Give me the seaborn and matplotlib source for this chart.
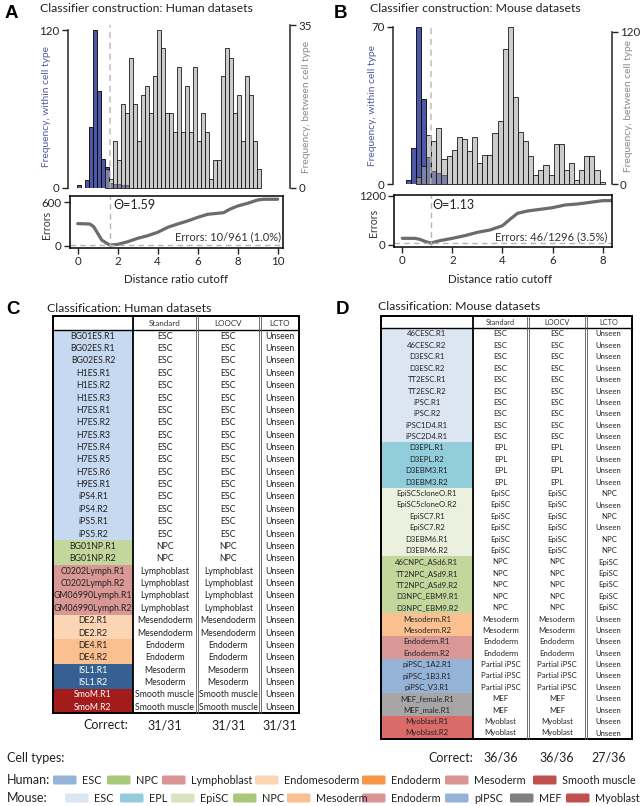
import numpy as np
import pandas as pd
import matplotlib
matplotlib.use("Agg")
import matplotlib.pyplot as plt
import seaborn as sns
from matplotlib.patches import Rectangle, FancyBboxPatch

sns.set_style("white")
plt.rcParams["font.family"] = ["Lato", "DejaVu Sans"]
plt.rcParams["axes.linewidth"] = 1.1

# ---------------- data ----------------
bin_w_h = 0.2
within_h_start = -0.02
within_h = [2, 0, 6, 46, 120, 74, 22, 16, 4, 3, 3, 2, 2]
between_h_start = 1.38
between_h = [4, 2, 10, 6, 18, 16, 28, 18, 10, 20, 22, 16, 24, 34, 30, 16, 16, 12, 26, 12,
             22, 12, 26, 10, 16, 12, 2, 6, 6, 24, 30, 28, 16, 20, 10, 24, 20, 10, 4]

bin_w_m = 0.2035
within_m_start = 0.14
within_m = [2, 16, 70, 38, 12, 6, 5, 4]
between_m_start = 0.547
between_m = [6, 14, 39, 34, 44, 20, 22, 27, 37, 36, 26, 37, 17, 23, 23, 40, 50, 106, 124, 69,
             41, 34, 22, 7, 11, 15, 7, 32, 32, 11, 17, 3, 11, 22, 22, 11, 2]

err_h_x = [0, 0.6, 0.8, 1.0, 1.2, 1.4, 1.6, 2.0, 2.5, 3.0, 3.5, 4.0, 4.5, 5.0, 5.5, 6.0, 6.5,
           7.0, 7.3, 7.6, 8.0, 8.5, 9.0, 9.3, 10.0]
err_h_y = [305, 300, 263, 171, 78, 42, 10, 18, 55, 102, 138, 185, 254, 300, 342, 392, 434,
           448, 457, 503, 549, 586, 632, 642, 642]
theta_h = 1.59
min_err_h = 10

err_m_x = [0, 0.5, 0.7, 0.9, 1.13, 1.5, 2.0, 2.5, 3.0, 3.5, 4.0, 4.3, 4.6, 5.0, 5.5, 6.0, 6.5,
           7.0, 7.5, 8.0, 8.36]
err_m_y = [163, 163, 139, 90, 46, 106, 163, 229, 310, 367, 473, 629, 776, 833, 873, 914, 980,
           1004, 1045, 1086, 1086]
theta_m = 1.13
min_err_m = 46

human_names = ["BG01ES.R1", "BG02ES.R1", "BG02ES.R2", "H1ES.R1", "H1ES.R2", "H1ES.R3",
               "H7ES.R1", "H7ES.R2", "H7ES.R3", "H7ES.R4", "H7ES.R5", "H7ES.R6", "H9ES.R1",
               "iPS4.R1", "iPS4.R2", "iPS5.R1", "iPS5.R2", "BG01NP.R1", "BG01NP.R2",
               "C0202Lymph.R1", "C0202Lymph.R2", "GM06990Lymph.R1", "GM06990Lymph.R2",
               "DE2.R1", "DE2.R2", "DE4.R1", "DE4.R2", "ISL1.R1", "ISL1.R2", "SmoM.R1", "SmoM.R2"]
human_group = ["ESC"] * 17 + ["NPC"] * 2 + ["Lymph"] * 4 + ["DE2"] * 2 + ["DE4"] * 2 + \
              ["ISL1"] * 2 + ["SmoM"] * 2
human_std = ["ESC"] * 17 + ["NPC"] * 2 + ["Lymphoblast"] * 4 + ["Mesendoderm"] * 2 + \
            ["Endoderm"] * 2 + ["Mesoderm"] * 2 + ["Smooth muscle"] * 2
human_loocv = list(human_std)
human_lcto = ["Unseen"] * 31
human_correct = ["31/31", "31/31", "31/31"]

mouse_names = ["46CESC.R1", "46CESC.R2", "D3ESC.R1", "D3ESC.R2", "TT2ESC.R1", "TT2ESC.R2",
               "iPSC.R1", "iPSC.R2", "iPSC1D4.R1", "iPSC2D4.R1",
               "D3EPL.R1", "D3EPL.R2", "D3EBM3.R1", "D3EBM3.R2",
               "EpiSC5cloneO.R1", "EpiSC5cloneO.R2", "EpiSC7.R1", "EpiSC7.R2", "D3EBM6.R1", "D3EBM6.R2",
               "46CNPC_ASd6.R1", "TT2NPC_ASd9.R1", "TT2NPC_ASd9.R2", "D3NPC_EBM9.R1", "D3NPC_EBM9.R2",
               "Mesoderm.R1", "Mesoderm.R2", "Endoderm.R1", "Endoderm.R2",
               "piPSC_1A2.R1", "piPSC_1B3.R1", "piPSC_V3.R1", "MEF_female.R1", "MEF_male.R1",
               "Myoblast.R1", "Myoblast.R2"]
mouse_group = ["ESC"] * 10 + ["EPL"] * 4 + ["EpiSC"] * 6 + ["NPC"] * 5 + ["Meso"] * 2 + \
              ["Endo"] * 2 + ["piPSC"] * 3 + ["MEF"] * 2 + ["Myo"] * 2
mouse_std = ["ESC"] * 10 + ["EPL"] * 4 + ["EpiSC"] * 6 + ["NPC"] * 5 + ["Mesoderm"] * 2 + \
            ["Endoderm"] * 2 + ["Partial iPSC"] * 3 + ["MEF"] * 2 + ["Myoblast"] * 2
mouse_loocv = list(mouse_std)
mouse_lcto = ["Unseen"] * 14 + ["NPC", "Unseen", "NPC", "Unseen", "NPC", "NPC"] + \
             ["EpiSC"] * 5 + ["Unseen"] * 11
mouse_correct = ["36/36", "36/36", "27/36"]

table_cols = ["Standard", "LOOCV", "LCTO"]

human_fill = {"ESC": "#c6d9f1", "NPC": "#c3d69b", "Lymph": "#d99795", "DE2": "#fcd5b5",
              "DE4": "#fac090", "ISL1": "#376092", "SmoM": "#a31c1c"}
mouse_fill = {"ESC": "#dce6f2", "EPL": "#92cddc", "EpiSC": "#ebf1de", "NPC": "#c3d69b",
              "Meso": "#fac090", "Endo": "#d99795", "piPSC": "#95b3d7", "MEF": "#a6a6a6",
              "Myo": "#db6b68"}

legend_h_labels = ["ESC", "NPC", "Lymphoblast", "Endomesoderm", "Endoderm", "Mesoderm", "Smooth muscle"]
legend_h_colors = ["#95b3d7", "#a9c97a", "#d99594", "#fcd5b4", "#f79646", "#d99594", "#c0504d"]
legend_m_labels = ["ESC", "EPL", "EpiSC", "NPC", "Mesoderm", "Endoderm", "pIPSC", "MEF", "Myoblast"]
legend_m_colors = ["#dce6f2", "#93cddd", "#d7e4bd", "#a9c97a", "#fac090", "#d99594", "#95b3d7",
                   "#7f7f7f", "#c0504d"]

# ---------------- layout helpers ----------------
W, H = 644, 806
fig = plt.figure(figsize=(W / 100, H / 100), dpi=100)


def px_axes(l, t, r, b):
    return fig.add_axes([l / W, 1 - b / H, (r - l) / W, (b - t) / H])


BLUE = "#4f58a6"
BLUE_TXT = "#5558a8"
GRAY_TXT = "#8a8a8a"
LINE = "#6b6b6b"


def hist_panel(box, xlim, within_start, within, between_start, between, bw,
               lmax, lylim, rmax, rylim, theta, llab_x, rlab_x):
    ax = px_axes(*box)
    wc = [within_start + bw * (i + 0.5) for i in range(len(within))]
    we = [within_start + bw * i for i in range(len(within) + 1)]
    sns.histplot(x=wc, weights=within, bins=we, ax=ax, color=BLUE, alpha=1,
                 edgecolor="black", linewidth=0.6)
    ax2 = ax.twinx()
    bc = [between_start + bw * (i + 0.5) for i in range(len(between))]
    be = [between_start + bw * i for i in range(len(between) + 1)]
    sns.histplot(x=bc, weights=between, bins=be, ax=ax2, color="#a6a6a6", alpha=1,
                 edgecolor="black", linewidth=0.6)
    for p in ax2.patches:
        p.set_alpha(None)
        p.set_facecolor((0.64, 0.64, 0.64, 0.55))
        p.set_edgecolor((0.1, 0.1, 0.1, 1))
        p.set_clip_on(False)
    ax.set_xlim(*xlim)
    ax.set_ylim(0, lylim)
    ax2.set_ylim(0, rylim)
    ax2.axvline(theta, color="#bdbdbd", ls=(0, (4, 3)), lw=1.1, zorder=5)
    for a in (ax, ax2):
        a.spines["top"].set_visible(False)
        a.spines["bottom"].set_visible(False)
        a.set_xticks([])
        a.set_xlabel("")
    ax.spines["right"].set_visible(False)
    ax2.spines["left"].set_visible(False)
    ax.spines["left"].set_bounds(0, lmax)
    ax2.spines["right"].set_bounds(0, rmax)
    ax.set_yticks([0, lmax])
    ax2.set_yticks([0, rmax])
    ax.tick_params(axis="y", direction="out", length=4, width=1.0, pad=2, labelsize=8.3,
                   left=True)
    ax2.tick_params(axis="y", direction="out", length=4, width=1.0, pad=2, labelsize=8.3,
                    right=True)
    ax.set_ylabel("Frequency, within cell type", color=BLUE_TXT, fontsize=7.4)
    ax2.set_ylabel("Frequency, between cell type", color=GRAY_TXT, fontsize=7.4)
    ax.yaxis.set_label_coords(llab_x, 0.5)
    ax2.yaxis.set_label_coords(rlab_x, 0.5)
    return ax, ax2


def err_panel(box, xlim, ylim, xs, ys, theta, minerr, ytop, xticks, theta_txt, err_txt,
              ylab_x, xlab_xy, th_pos, er_pos):
    ax = px_axes(*box)
    sns.lineplot(x=xs, y=ys, ax=ax, color=LINE, lw=2.3)
    ax.axvline(theta, color="#b5b5b5", ls=(0, (4, 3)), lw=1.0)
    ax.axhline(minerr, color="#b5b5b5", ls=(0, (4, 3)), lw=1.0)
    ax.set_xlim(*xlim)
    ax.set_ylim(*ylim)
    ax.set_yticks([0, ytop])
    ax.set_xticks(xticks)
    for s in ax.spines.values():
        s.set_visible(True)
        s.set_color("black")
        s.set_linewidth(1.1)
    ax.tick_params(direction="out", length=4, width=1.0, labelsize=8.3, pad=2,
                   left=True, bottom=True)
    ax.set_ylabel("Errors", fontsize=7.6, color="#333333")
    ax.yaxis.set_label_coords(ylab_x, 0.45)
    ax.set_xlabel("Distance ratio cutoff", fontsize=8.3, color="#222222")
    ax.xaxis.set_label_coords(*xlab_xy)
    ax.text(th_pos[0], th_pos[1], theta_txt, transform=ax.transAxes, fontsize=9,
            ha="left", va="center", color="#222222")
    ax.text(er_pos[0], er_pos[1], err_txt, transform=ax.transAxes, fontsize=8,
            ha="right", va="center", color="#333333")
    return ax


# Panel A
hist_panel((68, 25, 290, 188), (-0.485, 10.615), within_h_start, within_h, between_h_start,
           between_h, bin_w_h, 120, 123.8, 35, 35, theta_h, -0.075, 1.055)
err_panel((70, 196, 283, 248), (-0.385, 10.265), (-32, 687), err_h_x, err_h_y, theta_h,
          min_err_h, 600, [0, 2, 4, 6, 8, 10], "\u0398=1.59", "Errors: 10/961 (1.0%)",
          -0.085, (0.498, -0.5), (0.202, 0.83), (0.99, 0.21))

# Panel B
hist_panel((392.7, 26.7, 611.7, 184.3), (-0.383, 8.359), within_m_start, within_m,
           between_m_start, between_m, bin_w_m, 70, 70, 120, 123.9, theta_m, -0.072, 1.056)
err_panel((394, 195, 611.7, 246.7), (-0.331, 8.359), (-42, 1224), err_m_x, err_m_y, theta_m,
          min_err_m, 1200, [0, 2, 4, 6, 8], "\u0398=1.13", "Errors: 46/1296 (3.5%)",
          -0.068, (0.487, -0.53), (0.178, 0.81), (0.982, 0.19))

# ---------------- overlay for titles, tables and legend ----------------
ov = fig.add_axes([0, 0, 1, 1], zorder=-1)
ov.set_xlim(0, W)
ov.set_ylim(H, 0)
ov.axis("off")

for letter, x, y in [("A", 5, 14), ("B", 334, 14), ("C", 6, 310), ("D", 336, 310)]:
    ov.text(x, y, letter, fontsize=13.5, fontweight="bold", family=["Liberation Sans"],
            ha="left", va="center", color="black")
ov.text(40, 8, "Classifier construction: Human datasets", fontsize=8.8, ha="left",
        va="center", color="#222222")
ov.text(370, 8, "Classifier construction: Mouse datasets", fontsize=8.8, ha="left",
        va="center", color="#222222")
ov.text(47.5, 308, "Classification: Human datasets", fontsize=8.8, ha="left", va="center",
        color="#222222")
ov.text(378, 307, "Classification: Mouse datasets", fontsize=8.8, ha="left", va="center",
        color="#222222")


def draw_table(cols_x, top, hb, row_h, names, groups, fills, cols, fs, hfs, light_text):
    n = len(names)
    bottom = hb + n * row_h
    for i, (nm, g) in enumerate(zip(names, groups)):
        y0 = hb + i * row_h
        ov.add_patch(Rectangle((cols_x[0], y0), cols_x[1] - cols_x[0], row_h,
                               facecolor=fills[g], edgecolor="none"))
        tc = "white" if g in light_text else "#222222"
        ov.text((cols_x[0] + cols_x[1]) / 2, y0 + row_h / 2, nm, fontsize=fs, ha="center",
                va="center", color=tc)
        for j, col in enumerate(cols):
            ov.text((cols_x[j + 1] + cols_x[j + 2]) / 2, y0 + row_h / 2, col[i], fontsize=fs,
                    ha="center", va="center", color="#222222")
    for j, hname in enumerate(table_cols):
        ov.text((cols_x[j + 1] + cols_x[j + 2]) / 2, (top + hb) / 2, hname, fontsize=hfs,
                ha="center", va="center", color="#333333")
    ov.add_patch(Rectangle((cols_x[0], top), cols_x[-1] - cols_x[0], bottom - top,
                           fill=False, edgecolor="black", lw=1.4))
    ov.plot([cols_x[1], cols_x[1]], [top, bottom], color="black", lw=1.3)
    ov.plot([cols_x[0], cols_x[-1]], [hb, hb], color="black", lw=1.0)
    for xc in cols_x[2:4]:
        for dx in (-1.0, 1.0):
            ov.plot([xc + dx, xc + dx], [top, bottom], color="#5a5a5a", lw=0.6)
    return bottom


draw_table([53.3, 132.7, 196.7, 260, 299.3], 316, 330, 12.37, human_names, human_group,
           human_fill, [human_std, human_loocv, human_lcto], 6.3, 5.8, {"ISL1", "SmoM"})
draw_table([381, 472.7, 528.3, 585.7, 631.7], 316, 328.3, 11.4, mouse_names, mouse_group,
           mouse_fill, [mouse_std, mouse_loocv, mouse_lcto], 5.6, 5.3, set())

# Correct rows
ov.text(128, 725, "Correct:", fontsize=9, ha="right", va="center", color="#222222")
for xc, s in zip([164.7, 228.3, 279.6], human_correct):
    ov.text(xc, 725, s, fontsize=9, ha="center", va="center", color="#222222")
ov.text(473, 758, "Correct:", fontsize=9, ha="right", va="center", color="#222222")
for xc, s in zip([500.5, 557, 608.7], mouse_correct):
    ov.text(xc, 758, s, fontsize=9, ha="center", va="center", color="#222222")

# Legend
ov.text(7, 758, "Cell types:", fontsize=9, ha="left", va="center", color="#222222")
ov.text(7, 780, "Human:", fontsize=9, ha="left", va="center", color="#222222")
ov.text(7, 798, "Mouse:", fontsize=9, ha="left", va="center", color="#222222")

h_sw_x = [53, 107, 162, 255, 362, 445, 533]
m_sw_x = [65, 120, 171, 233, 287, 362, 445, 510, 566]
for xs, labels, colors, yc in [(h_sw_x, legend_h_labels, legend_h_colors, 780),
                               (m_sw_x, legend_m_labels, legend_m_colors, 798)]:
    for x, lab, c in zip(xs, labels, colors):
        ov.add_patch(FancyBboxPatch((x, yc - 4.5), 23.5, 9,
                                    boxstyle="round,pad=0,rounding_size=1.5",
                                    facecolor=c, edgecolor="none"))
        ov.text(x + 29, yc, lab, fontsize=7.8, ha="left", va="center", color="#222222")

fig.savefig("out.png", dpi=100)
